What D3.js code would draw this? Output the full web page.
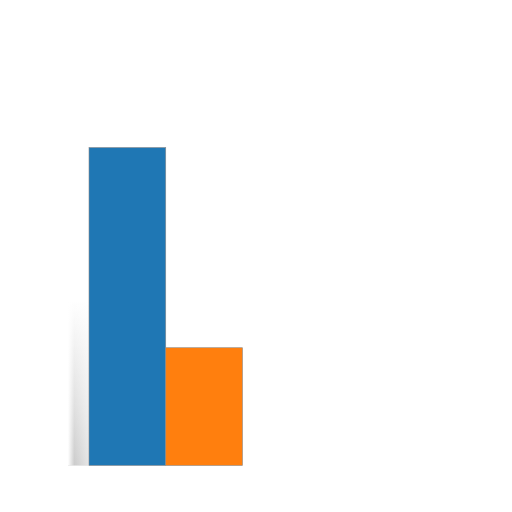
<!DOCTYPE html>
<html><head><meta charset="utf-8">
<script src="https://cdn.jsdelivr.net/npm/d3@7"></script>
<style>body{margin:0;background:#fff}</style>
</head><body>
<svg id="c" width="512" height="512"></svg>
<script>
const categories = ["A", "B"];
const values = [27, 10];
const colors = ["#1f77b4", "#ff7f0e"];

const svg = d3.select("#c");
const x = d3.scaleBand().domain(categories).range([89, 242.5]).padding(0);
const y = d3.scaleLinear().domain([0, 27]).range([465.5, 147.5]);

const defs = svg.append("defs");
const g1 = defs.append("linearGradient").attr("id","sh").attr("x1",0).attr("y1",0).attr("x2",0).attr("y2",1);
g1.append("stop").attr("offset","0%").attr("stop-color","#bbb").attr("stop-opacity",0);
g1.append("stop").attr("offset","40%").attr("stop-color","#bbb").attr("stop-opacity",0.35);
g1.append("stop").attr("offset","100%").attr("stop-color","#aaa").attr("stop-opacity",0.75);
const g2 = defs.append("linearGradient").attr("id","shm").attr("x1",0).attr("y1",0).attr("x2",1).attr("y2",0);
g2.append("stop").attr("offset","0%").attr("stop-color","#fff").attr("stop-opacity",1);
g2.append("stop").attr("offset","30%").attr("stop-color","#fff").attr("stop-opacity",0.2);
g2.append("stop").attr("offset","100%").attr("stop-color","#fff").attr("stop-opacity",0.6);

// shadow
svg.append("rect").attr("x",68).attr("y",y(14)).attr("width",x(categories[0])-68).attr("height",y(0)-y(14)).attr("fill","url(#sh)");
svg.append("rect").attr("x",68).attr("y",y(14)).attr("width",x(categories[0])-68).attr("height",y(0)-y(14)).attr("fill","url(#shm)");

svg.selectAll("rect.bar").data(values).enter().append("rect")
  .attr("class","bar")
  .attr("x",(d,i)=>x(categories[i]))
  .attr("y",d=>y(d))
  .attr("width",x.bandwidth())
  .attr("height",d=>y(0)-y(d))
  .attr("fill",(d,i)=>colors[i])
  .attr("stroke","#8a8a8a").attr("stroke-width",0.6);
</script>
</body></html>
